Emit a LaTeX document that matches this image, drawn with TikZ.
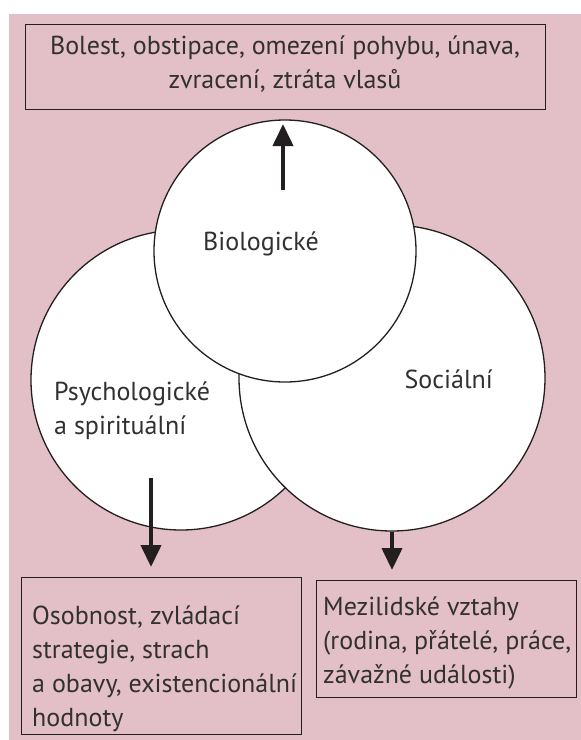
\documentclass[tikz,border=0pt]{standalone}
\usepackage{fontspec}
\setmainfont{PT Sans}
\usetikzlibrary{arrows.meta,positioning}
\definecolor{bgpink}{RGB}{227,192,199}
\definecolor{ink}{RGB}{35,31,32}
\definecolor{txtgray}{RGB}{50,48,49}
\newcommand{\arrw}{4pt}
\newcommand{\txtfont}{\fontsize{26}{34}\selectfont}

\begin{document}
\begin{tikzpicture}[x=1pt,y=-1pt,
    circ/.style={circle, draw=ink, line width=1.3pt, fill=white, inner sep=0pt},
    box/.style={draw=ink, line width=1.3pt, inner sep=0pt, anchor=north west},
    lbl/.style={text=txtgray, font=\txtfont, inner sep=0pt, align=left, anchor=base west},
    arr/.style={draw=ink, line width=\arrw, -{Triangle[width=20pt,length=22pt]}}]
  \useasboundingbox (0,0) rectangle (581,740);
  \fill[bgpink] (9,14) rectangle (581,740);
  %\draw[help lines] (0,0) grid[step=50] (581,740);

  % the three circles
  \node[circ, minimum size=300pt] (psy) at (181,380) {};
  \node[circ, minimum size=306pt] (soc) at (392,378) {};
  \node[circ, minimum size=262pt] (bio) at (285,251) {};

  % base anchor = last line
  \node[lbl] (biotext) at (203,250) {Biologické};
  \node[lbl] (psytext) at (54,434) {Psychologické\\a spirituální};
  \node[lbl, anchor=base east] (soctext) at (493,388) {Sociální};

  % boxes
  \node[box, minimum width=520pt, minimum height=85pt] (biobox) at (25,24) {};
  \node[lbl, align=center, anchor=base] (bioboxtext) at (285,88)
    {Bolest, obstipace, omezení pohybu, únava,\\zvracení, ztráta vlasů};
  \node[box, minimum width=280pt, minimum height=157pt] (psybox) at (21,577) {};
  \node[lbl] (psyboxtext) at ([shift={(11,149)}]psybox.north west)
    {Osobnost, zvládací\\strategie, strach\\a obavy, existencionální\\hodnoty};
  \node[box, minimum width=260pt, minimum height=117pt] (socbox) at (316,580) {};
  \node[lbl] (socboxtext) at ([shift={(7,103)}]socbox.north west)
    {Mezilidské vztahy\\(rodina, přátelé, práce,\\závažné události)};

  % arrows
  \coordinate (biofrom) at (283,190);
  \coordinate (bioto) at (283,124);
  \coordinate (psyfrom) at (151,478);
  \coordinate (psyto) at (151,567);
  \coordinate (socto) at (392,570);
  \draw[arr] (biofrom) -- (bioto);
  \draw[arr] (psyfrom) -- (psyto);
  \draw[arr] (soc.south) -- (socto);
\end{tikzpicture}
\end{document}
